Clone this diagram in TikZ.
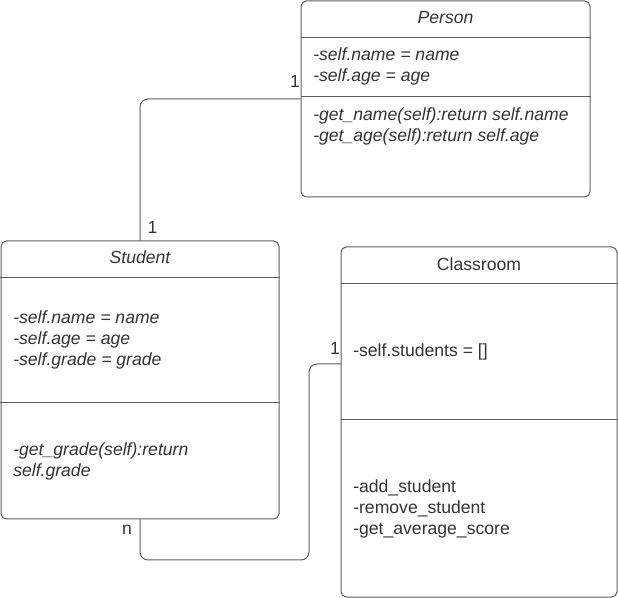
\documentclass[tikz,border=0pt]{standalone}
\usepackage{fontspec}
\setmainfont{Liberation Sans}
\definecolor{linegray}{RGB}{94,94,94}
\definecolor{textgray}{RGB}{51,51,51}
\tikzset{
  classbox/.style={draw=linegray,line width=0.75pt,rounded corners=4pt,shape=rectangle},
  sep/.style={draw=linegray,line width=0.75pt},
  link/.style={draw=linegray,line width=0.75pt,rounded corners=6pt},
  txt/.style={text=textgray,font=\fontsize{13.2}{15.75}\selectfont,inner sep=0pt,align=left},
  itxt/.style={txt,font=\fontsize{13.2}{15.75}\selectfont\itshape}
}
\begin{document}
\begin{tikzpicture}[x=0.75pt,y=-0.75pt]
\useasboundingbox (0,0) rectangle (618,598);
\node [classbox,name=person,minimum width=216.75pt,minimum height=147pt] at (445.5,99){};
\node [classbox,name=student,minimum width=208.5pt,minimum height=208.5pt] at (140,380){};
\node [classbox,name=room,minimum width=207pt,minimum height=262.5pt] at (479,422){};
\draw[sep] ([yshift=-27.75pt]person.north west)--([yshift=-27.75pt]person.north east);
\draw[sep] ([yshift=-72pt]person.north west)--([yshift=-72pt]person.north east);
\draw[sep] ([yshift=-27.75pt]student.north west)--([yshift=-27.75pt]student.north east);
\draw[sep] ([yshift=-121.5pt]student.north west)--([yshift=-121.5pt]student.north east);
\draw[sep] ([yshift=-27.75pt]room.north west)--([yshift=-27.75pt]room.north east);
\draw[sep] ([yshift=-129.75pt]room.north west)--([yshift=-129.75pt]room.north east);
\node [itxt,name=ptitle] at (445.5,17.5){Person};
\node [itxt,name=pattr,anchor=west] at (313,66.5){-self.name = name\\-self.age = age};
\node [itxt,name=pmeth,anchor=west] at (313,126){-get\_name(self):return self.name\\-get\_age(self):return self.age};
\node [itxt,name=stitle] at (140,257.5){Student};
\node [itxt,name=sattr,anchor=west] at (13,340){-self.name = name\\-self.age = age\\-self.grade = grade};
\node [itxt,name=smeth,anchor=west] at (13,461.5){-get\_grade(self):return\\self.grade};
\node [txt,name=rtitle] at (479,264){Classroom};
\node [txt,name=rattr,anchor=west] at (353,352){-self.students = []};
\node [txt,name=rmeth,anchor=west] at (353,509){-add\_student\\-remove\_student\\-get\_average\_score};
\coordinate (bend) at (309,560);
\coordinate (roomin) at (341,364);
\draw[link] (student.north)|-(person.west);
\draw[link] (student.south)|-(bend)|-(roomin);
\node [txt,name=m1] at (295,81.5){1};
\node [txt,name=m2] at (152.5,227){1};
\node [txt,name=m3] at (127,529.5){n};
\node [txt,name=m4] at (335,348){1};
\end{tikzpicture}
\end{document}
